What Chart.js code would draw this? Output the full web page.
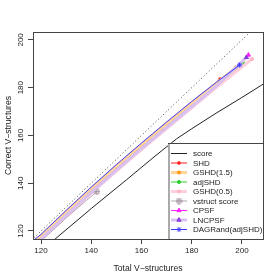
<!DOCTYPE html>
<html>
<head>
<meta charset="utf-8">
<script src="https://cdn.jsdelivr.net/npm/chart.js@4/dist/chart.umd.min.js"></script>
<style>
  html, body { margin: 0; padding: 0; background: #fff; }
  canvas { display: block; }
</style>
</head>
<body>
<canvas id="vstructChart" width="280" height="280"></canvas>
<script>
// total vs correct v-structures, one curve per method
const xTickValues = [120, 140, 160, 180, 200];
const yTickValues = [120, 140, 160, 180, 200];

const diagX = [100, 215];
const diagY = [100, 215];

const scoreX = [115, 125.6, 140, 154, 165, 174, 180, 190, 200, 212];
const scoreY = [107.5, 116.65, 129.4, 141.4, 151, 158.6, 162.8, 169.5, 175.9, 183.8];

const shdX = [108, 120, 130, 140, 150, 160, 170, 180, 191.3];
const shdY = [107.6, 117.5, 127.5, 137.2, 146.6, 155.6, 164.4, 173.1, 183.6];

const gshd15X = [108, 120, 130, 140, 150, 160, 170, 180, 190, 197.7];
const gshd15Y = [108.0, 118.0, 128.0, 137.8, 147.2, 156.2, 165.0, 173.6, 182.0, 188.5];

const adjShdX = [108, 120, 130, 140, 150, 160, 170, 180, 190, 200.9];
const adjShdY = [107.0, 117.0, 126.8, 136.6, 145.9, 154.9, 163.7, 172.4, 180.9, 189.9];

const gshd05X = [108, 120, 130, 140, 150, 160, 170, 180, 190, 204];
const gshd05Y = [106.4, 116.3, 126.1, 135.8, 145.1, 154.1, 162.9, 171.6, 180.2, 192.0];

const vstructX = [108, 120, 130, 142.2];
const vstructY = [105.6, 115.8, 125.5, 136.5];

const cpsfX = [108, 120, 130, 140, 150, 160, 170, 180, 190, 200, 202.6];
const cpsfY = [107.0, 116.8, 126.7, 136.5, 145.8, 154.8, 163.6, 172.3, 181.0, 190.4, 193.7];

const lncpsfX = [108, 120, 130, 140, 150, 160, 170, 180, 190, 201.8];
const lncpsfY = [106.8, 116.6, 126.5, 136.2, 145.5, 154.5, 163.3, 172.0, 180.8, 192.7];

const dagRandX = [108, 120, 130, 140, 150, 160, 170, 180, 190, 199.1];
const dagRandY = [108.6, 118.6, 128.6, 138.4, 147.8, 156.8, 165.6, 174.2, 182.4, 189.5];

function pts(xs, ys) {
  return xs.map((x, i) => ({ x: x, y: ys[i] }));
}

// R-ish pch 10: circle with a plus inside
const circlePlus = document.createElement('canvas');
circlePlus.width = 7;
circlePlus.height = 7;
(function () {
  const c = circlePlus.getContext('2d');
  c.strokeStyle = '#a090a0';
  c.lineWidth = 1;
  c.beginPath();
  c.arc(3.5, 3.5, 2.7, 0, Math.PI * 2);
  c.moveTo(3.5, 0.8); c.lineTo(3.5, 6.2);
  c.moveTo(0.8, 3.5); c.lineTo(6.2, 3.5);
  c.stroke();
})();

// marker only on the last point of each curve
function lastOnly(r) {
  return function (ctx) {
    return ctx.dataIndex === ctx.dataset.data.length - 1 ? r : 0;
  };
}

function series(label, xs, ys, line, width, point, style, radius) {
  return {
    label: label,
    data: pts(xs, ys),
    borderColor: line,
    borderWidth: width,
    backgroundColor: point,
    pointBackgroundColor: point,
    pointBorderColor: point,
    pointBorderWidth: 1,
    pointStyle: style,
    pointRadius: lastOnly(radius),
    legendRadius: radius,
    tension: 0,
    showLine: true
  };
}

const datasets = [
  {
    label: '',
    data: pts(diagX, diagY),
    borderColor: '#444',
    borderWidth: 1,
    borderDash: [1, 2.5],
    pointRadius: 0,
    showLine: true,
    noLegend: true
  },
  series('score', scoreX, scoreY, '#222', 1, '#222', false, 0),
  series('SHD', shdX, shdY, '#ff2020', 1, '#ff2020', 'rect', 1.6),
  series('GSHD(1.5)', gshd15X, gshd15Y, '#ffd49a', 3, '#ff9c18', 'circle', 1.6),
  series('adjSHD', adjShdX, adjShdY, '#30d030', 1, '#30d030', 'circle', 1.6),
  series('GSHD(0.5)', gshd05X, gshd05Y, '#ffd0dc', 3, '#ffb6c6', 'circle', 1.6),
  series('vstruct score', vstructX, vstructY, '#b4a6b4', 1, '#a090a0', circlePlus, 3.5),
  series('CPSF', cpsfX, cpsfY, '#ff20ff', 1, '#ff20ff', 'triangle', 2.4),
  series('LNCPSF', lncpsfX, lncpsfY, '#d8c0f0', 3, '#8a3ee0', 'triangle', 2.4),
  series('DAGRand(adjSHD)', dagRandX, dagRandY, '#3a3aff', 1, '#3a3aff', 'star', 2.6)
];
// later series drawn on top, like R
datasets.forEach((d, i) => { d.order = -i; });

const plotBox = {
  id: 'plotBox',
  afterDatasetsDraw(chart) {
    const { ctx, chartArea: a } = chart;
    ctx.save();
    ctx.strokeStyle = '#444';
    ctx.lineWidth = 1;
    ctx.strokeRect(Math.round(a.left) + 0.5, Math.round(a.top) + 0.5,
      Math.round(a.right - a.left), Math.round(a.bottom - a.top));
    ctx.restore();
  }
};

const legendBox = {
  id: 'legendBox',
  afterDatasetsDraw(chart) {
    const { ctx, chartArea: a } = chart;
    const w = 95, h = 96;
    const left = Math.round(a.right) - w, top = Math.round(a.bottom) - h;
    ctx.save();
    ctx.fillStyle = '#fff';
    ctx.fillRect(left, top, w, h);
    ctx.strokeStyle = '#444';
    ctx.lineWidth = 1;
    ctx.strokeRect(left + 0.5, top + 0.5, w, h);
    ctx.strokeStyle = '#aaa';
    ctx.lineWidth = 2;
    ctx.beginPath();
    ctx.moveTo(left + 1, top + 1);
    ctx.lineTo(left + 1, top + h);
    ctx.stroke();

    ctx.font = '8px "Liberation Sans", Arial, sans-serif';
    ctx.textBaseline = 'middle';
    ctx.textAlign = 'left';
    let row = 0;
    chart.data.datasets.forEach(ds => {
      if (ds.noLegend) return;
      const y = top + 10.5 + row * 9.5;
      ctx.strokeStyle = ds.borderColor;
      ctx.lineWidth = ds.borderWidth;
      ctx.setLineDash([]);
      ctx.beginPath();
      ctx.moveTo(left + 3, y);
      ctx.lineTo(left + 19, y);
      ctx.stroke();
      if (ds.legendRadius > 0) {
        ctx.fillStyle = ds.pointBackgroundColor;
        ctx.strokeStyle = ds.pointBorderColor;
        ctx.lineWidth = 1;
        Chart.helpers.drawPoint(ctx, {
          pointStyle: ds.pointStyle,
          radius: ds.legendRadius,
          rotation: 0,
          borderWidth: 1
        }, left + 11, y);
      }
      ctx.fillStyle = '#222';
      ctx.fillText(ds.label, left + 25, y + 0.5);
      row++;
    });
    ctx.restore();
  }
};

const tickFont = { family: '"Liberation Sans", Arial, sans-serif', size: 8 };
const titleFont = { family: '"Liberation Sans", Arial, sans-serif', size: 8.6 };

new Chart(document.getElementById('vstructChart'), {
  type: 'scatter',
  data: { datasets: datasets },
  options: {
    responsive: false,
    animation: false,
    events: [],
    layout: { padding: { top: 32, right: 17, left: 0, bottom: 0 } },
    plugins: {
      legend: { display: false },
      tooltip: { enabled: false }
    },
    scales: {
      x: {
        type: 'linear',
        min: 116.8,
        max: 208.4,
        afterBuildTicks: s => { s.ticks = xTickValues.map(v => ({ value: v })); },
        afterFit: s => { s.height = 41; },
        grid: { drawOnChartArea: false, drawTicks: true, tickLength: 5, color: '#444' },
        border: { display: true, color: '#444' },
        ticks: { font: tickFont, color: '#222', padding: 2, maxRotation: 0, autoSkip: false },
        title: {
          display: true,
          text: 'Total V\u2212structures',
          font: titleFont,
          color: '#222',
          padding: { top: 0, bottom: 6 }
        }
      },
      y: {
        type: 'linear',
        min: 116.65,
        max: 203.3,
        afterBuildTicks: s => { s.ticks = yTickValues.map(v => ({ value: v })); },
        afterFit: s => { s.width = 33; },
        grid: { drawOnChartArea: false, drawTicks: true, tickLength: 5, color: '#444' },
        border: { display: true, color: '#444' },
        ticks: {
          font: tickFont,
          color: '#222',
          padding: 1,
          minRotation: 90,
          maxRotation: 90,
          crossAlign: 'center',
          autoSkip: false
        },
        title: {
          display: true,
          text: 'Correct V\u2212structures',
          font: titleFont,
          color: '#222',
          padding: { top: 3, bottom: 0 }
        }
      }
    }
  },
  plugins: [plotBox, legendBox]
});
</script>
</body>
</html>
